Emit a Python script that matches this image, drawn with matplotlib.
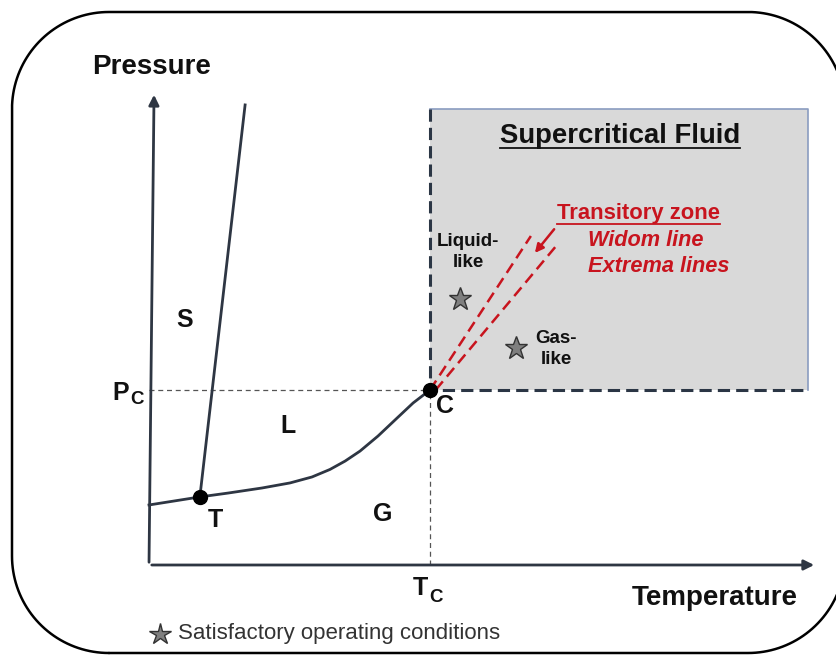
import matplotlib
matplotlib.use('Agg')
import matplotlib.pyplot as plt
import numpy as np
from matplotlib.lines import Line2D
from matplotlib.patches import Rectangle
from matplotlib.transforms import IdentityTransform

plt.rcParams['font.family'] = ['Liberation Sans', 'DejaVu Sans']

# phase diagram in reduced units (T/Tc, P/Pc)
T_crit, P_crit = 1.0, 1.0
T_triple, P_triple = 0.181, 0.389

sub_T = [0.0, 0.181]
sub_P = [0.343, 0.389]
melt_T = [0.181, 0.342]
melt_P = [0.389, 2.629]
vap_T = [0.181, 0.281, 0.402, 0.502, 0.580, 0.644, 0.698, 0.751, 0.815, 0.883, 0.940, 1.0]
vap_P = [0.389, 0.411, 0.440, 0.469, 0.503, 0.546, 0.594, 0.651, 0.737, 0.840, 0.926, 1.0]

scf_T = [1.0, 2.345]
scf_P = [1.0, 2.606]

widom_T = [[1.0, 1.359], [1.02, 1.452]]
widom_P = [[1.0, 1.880], [1.0, 1.829]]
arrow_T = [1.448, 1.367]
arrow_P = [1.931, 1.771]

star_T = [1.107, 1.306]
star_P = [1.520, 1.240]

axis_T_end = 2.377
axis_P_end = 2.703

dark = '#2e3643'
red = '#c8141e'
txt = '#111111'
W, H = 836, 655


def px(x, y):
    # pixel position in the picture -> reduced units
    return (x - 149) / 281, (565 - y) / 175


def frame_path(x0, y0, x1, y1, r):
    # rounded rectangle outline in pixels (y measured from the top)
    xs, ys = [], []
    corners = [(x0 + r, y1 - r, -90, -180), (x0 + r, y0 + r, 180, 90),
               (x1 - r, y0 + r, 90, 0), (x1 - r, y1 - r, 0, -90)]
    for cx, cy, a0, a1 in corners:
        a = np.radians(np.linspace(a0, a1, 40))
        xs += list(cx + r * np.cos(a))
        ys += list(cy - r * np.sin(a))
    xs.append(xs[0])
    ys.append(ys[0])
    return np.array(xs), H - np.array(ys)


fig = plt.figure(figsize=(W / 100, H / 100), dpi=100)
ax = fig.add_axes([0, 0, 1, 1])
ax.set_xlim(-149 / 281, (W - 149) / 281)
ax.set_ylim((565 - H) / 175, 565 / 175)
ax.axis('off')

# rounded frame
fx, fy = frame_path(12, 12, 845, 653, 97)
fig.add_artist(Line2D(fx, fy, transform=IdentityTransform(), color='black', lw=1.8,
                      solid_capstyle='round', solid_joinstyle='round'))

# supercritical region
ax.add_patch(Rectangle((scf_T[0], scf_P[0]), scf_T[1] - scf_T[0], scf_P[1] - scf_P[0],
                       fc='#d9d9d9', ec='none', zorder=1))
ax.plot([scf_T[0], scf_T[1], scf_T[1]], [scf_P[1], scf_P[1], scf_P[0]],
        color='#8a9cc0', lw=1.2, zorder=2)
ax.plot([scf_T[0], scf_T[0], scf_T[1]], [scf_P[1], scf_P[0], scf_P[0]],
        color='#2b3645', lw=2.2, dashes=(4, 2), zorder=3)

# critical dashed guides
ax.plot([0, T_crit], [P_crit, P_crit], color='#555555', lw=0.9, dashes=(4, 3), zorder=2)
ax.plot([T_crit, T_crit], [0, P_crit], color='#555555', lw=0.9, dashes=(4, 3), zorder=2)

# axes with arrows
ax.annotate('', xy=(axis_T_end, 0), xytext=(0, 0),
            arrowprops=dict(arrowstyle='-|>,head_length=0.6,head_width=0.3', color=dark, lw=2))
ax.annotate('', xy=(0.018, axis_P_end), xytext=(0, 0),
            arrowprops=dict(arrowstyle='-|>,head_length=0.6,head_width=0.3', color=dark, lw=2))

# coexistence lines
ax.plot(sub_T, sub_P, color=dark, lw=2, zorder=4)
ax.plot(melt_T, melt_P, color=dark, lw=2, zorder=4)
ax.plot(vap_T, vap_P, color=dark, lw=2, zorder=4, solid_joinstyle='round')
ax.plot([T_triple, T_crit], [P_triple, P_crit], 'o', color='black', ms=10, zorder=6)

# widom / extrema lines
for wt, wp in zip(widom_T, widom_P):
    ax.plot(wt, wp, color=red, lw=1.8, dashes=(4.5, 2.5), zorder=5)
ax.annotate('', xy=(arrow_T[1], arrow_P[1]), xytext=(arrow_T[0], arrow_P[0]),
            arrowprops=dict(arrowstyle='-|>,head_length=0.5,head_width=0.25', color=red, lw=1.8))

# operating conditions
ax.plot(star_T, star_P, '*', ms=17, mfc='#7f7f7f', mec='#333333', mew=1, zorder=6)
ax.plot(*px(160, 634), '*', ms=16, mfc='#7f7f7f', mec='#333333', mew=1)

bold = dict(fontweight='bold', color=txt, ha='center', va='center')
ax.text(*px(152, 67), 'Pressure', fontsize=20, **bold)
ax.text(*px(715, 598), 'Temperature', fontsize=20, **bold)
ax.text(*px(185, 320), 'S', fontsize=18, **bold)
ax.text(*px(288, 426), 'L', fontsize=18, **bold)
ax.text(*px(383, 514), 'G', fontsize=18, **bold)
ax.text(*px(215, 520), 'T', fontsize=18, **bold)
ax.text(*px(445, 406), 'C', fontsize=18, **bold)
ax.text(*px(121, 393), 'P', fontsize=18, **bold)
ax.text(*px(137, 400), 'C', fontsize=13.5, **bold)
ax.text(*px(420, 588), 'T', fontsize=18, **bold)
ax.text(*px(436, 597), 'C', fontsize=13.5, **bold)
ax.text(*px(468, 252), 'Liquid-\nlike', fontsize=13.5, linespacing=1.25, **bold)
ax.text(*px(556, 349), 'Gas-\nlike', fontsize=13.5, linespacing=1.25, **bold)

t_scf = ax.text(*px(620, 136), 'Supercritical Fluid', fontsize=19.8, **bold)
t_tz = ax.text(*px(557, 214), 'Transitory zone', fontsize=15.8, fontweight='bold',
               color=red, ha='left', va='center')
ax.text(*px(588, 240), 'Widom line', fontsize=15.7, fontweight='bold', fontstyle='italic',
        color=red, ha='left', va='center')
ax.text(*px(588, 266), 'Extrema lines', fontsize=15.7, fontweight='bold', fontstyle='italic',
        color=red, ha='left', va='center')
ax.text(*px(178, 634), 'Satisfactory operating conditions', fontsize=16,
        color='#333333', ha='left', va='center')

# underlines
renderer = fig.canvas.get_renderer()
inv = ax.transData.inverted()
for t, col in [(t_scf, txt), (t_tz, red)]:
    bb = t.get_window_extent(renderer)
    (x0, y0), (x1, _) = inv.transform([(bb.x0, bb.y0 + 1), (bb.x1, bb.y0 + 1)])
    ax.plot([x0, x1], [y0, y0], color=col, lw=1.3)

fig.savefig('out.png', dpi=100)
